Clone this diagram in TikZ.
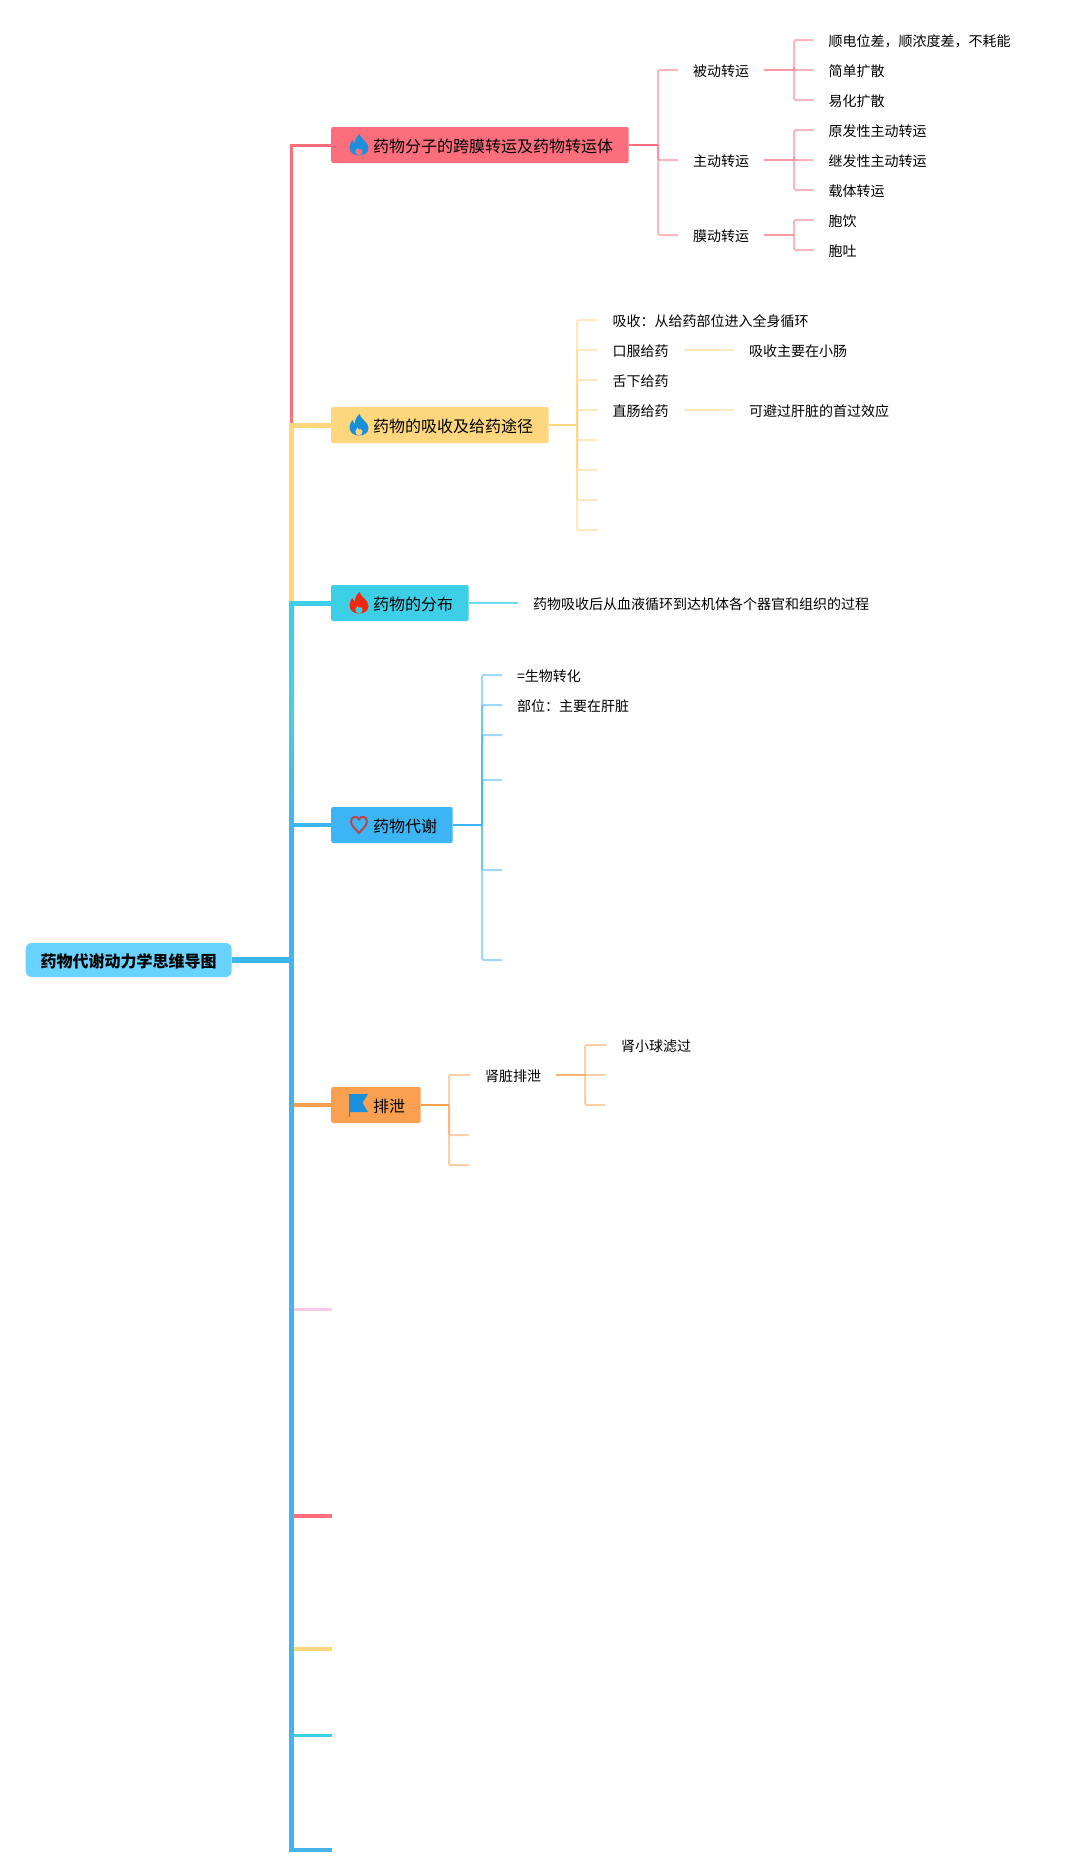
\documentclass[tikz,border=0pt]{standalone}
\usepackage{fontspec}
\setmainfont{Noto Sans CJK SC}
\definecolor{cred}{HTML}{FD6E7C}
\definecolor{cyel}{HTML}{FED67E}
\definecolor{ccya}{HTML}{3DCFE6}
\definecolor{cteal}{HTML}{4CCFD8}
\definecolor{cblu}{HTML}{3DB5F5}
\definecolor{ctrunk}{HTML}{45B4EA}
\definecolor{cora}{HTML}{F9A050}
\definecolor{cpin}{HTML}{FFC8E8}
\definecolor{croot}{HTML}{68D3FF}
\definecolor{ticon}{HTML}{1A8FDC}
\definecolor{fireic}{HTML}{F5280F}
\definecolor{hearti}{HTML}{B5484F}
\tikzset{
  txt/.style={anchor=west,inner xsep=15pt,inner ysep=0pt,text height=14pt,text depth=1.4pt,font=\fontsize{14}{16}\selectfont,text=black},
  boxn/.style={anchor=west,inner xsep=15.5pt,inner ysep=0pt,minimum height=36pt,rounded corners=2pt,text height=15pt,text depth=1pt,font=\fontsize{16}{18}\selectfont,text=black},
  rootn/.style={anchor=west,inner xsep=15pt,inner ysep=0pt,minimum height=34pt,rounded corners=6pt,fill=croot,text height=15pt,text depth=1pt,font=\fontsize{16}{18}\selectfont\bfseries,text=black},
  stub/.style={line width=2pt,opacity=.5,rounded corners=1.5pt},
  conn/.style={line width=2pt},
}
\newcommand{\flameicon}[4]{% x y color inner
  \begin{scope}[shift={(#1,#2)}]
    \fill[#3] (0.5,-11) .. controls (1.5,-6) and (9.5,-3) .. (9.5,3) .. controls (9.5,8) and (5,10.5) .. (0,10.5)
      .. controls (-5.5,10.5) and (-9.5,7.5) .. (-9.5,2) .. controls (-9.5,-1) and (-7.5,-3.5) .. (-6.5,-5)
      .. controls (-6,-3.5) and (-5,-2) .. (-4,-1.5) .. controls (-4.5,-5) and (-2,-9) .. (0.5,-11) -- cycle;
    \fill[#4] (0,10.5) .. controls (-2.6,10) and (-3.8,8) .. (-3.6,6.2) .. controls (-3.4,4.6) and (-2,3.8) .. (-1.4,2.6)
      .. controls (-0.9,3.4) and (-0.6,4) .. (-0.4,4.4) .. controls (1,3.8) and (3.6,4) .. (3.6,6.4)
      .. controls (3.6,8.6) and (2.2,10) .. (0,10.5) -- cycle;
  \end{scope}}
\begin{document}
\begin{tikzpicture}[x=1pt,y=-1pt]
\useasboundingbox[fill=white] (0,0) rectangle (1071,1875);
% trunk junctions
\coordinate (jroot) at (291.5,960);
\coordinate (j2) at (291.5,425);
\coordinate (j3) at (291.5,603);
\coordinate (j4) at (291.5,825);
\coordinate (e6) at (332,1309.5);
\coordinate (e7) at (332,1515.5);
\coordinate (e8) at (332,1648.5);
\coordinate (e9) at (332,1735.5);
\coordinate (e10) at (332,1850);
% main boxes
\node[boxn,fill=cred] (b1) at (331,145) {\hspace{26.5pt}药物分子的跨膜转运及药物转运体};
\node[boxn,fill=cyel] (b2) at (331,425) {\hspace{26.5pt}药物的吸收及给药途径};
\node[boxn,fill=ccya] (b3) at (331,603) {\hspace{26.5pt}药物的分布};
\node[boxn,fill=cblu] (b4) at (331,825) {\hspace{26.5pt}药物代谢};
\node[boxn,fill=cora] (b5) at (331,1105) {\hspace{26.5pt}排泄};
\node[rootn] (root) at (25.5,960) {药物代谢动力学思维导图};
% icons
\flameicon{359}{145}{ticon}{cred}
\flameicon{359}{425}{ticon}{cyel}
\flameicon{359}{603}{fireic}{ccya}
\draw[hearti,line width=2pt,line join=round] (359,833) .. controls (355,828.5) and (351,825.5) .. (351,821.5)
  .. controls (351,816) and (357.5,815) .. (359,819.5) .. controls (360.5,815) and (367,816) .. (367,821.5)
  .. controls (367,825.5) and (363,828.5) .. (359,833) -- cycle;
\fill[ticon] (349,1094) -- (368,1094) -- (362.5,1103) -- (368,1112) -- (350,1112) -- (350,1116.5) -- (349,1116.5) -- cycle;
% trunk
\draw[cred,line width=3pt] (b1.west) -| (j2);
\draw[cyel,line width=5pt] (b2.west) -| (j3);
\fill[top color=ccya,bottom color=ctrunk,middle color=cteal] (289,603) rectangle (293.5,825);
\draw[ccya,line width=5pt] (b3.west) -- (289,603);
\draw[cblu,line width=4pt] (b4.west) -- (j4);
\draw[cora,line width=4pt] (b5.west) -- (292,1105);
\draw[cpin,line width=3pt] (e6) -- (292,1309.5);
\draw[cred,line width=4pt] (e7) -- (292,1515.5);
\draw[cyel,line width=4pt] (e8) -- (292,1648.5);
\draw[ccya,line width=3pt] (e9) -- (292,1735.5);
\draw[cblu,line width=5.5pt] (root.east) -- (jroot);
\draw[ctrunk,line width=4.5pt] (e10) -| (j4);
% branch 1
\coordinate (k1) at (658,145);
\node[txt] (c11) at (678,70) {被动转运};
\node[txt] (c12) at (678,160) {主动转运};
\node[txt] (c13) at (678,235) {膜动转运};
\draw[cred,conn] (b1.east) -- (k1);
\foreach \n in {c11,c12,c13}{\draw[cred,stub] (\n.west) -| (k1);}
\coordinate (k11) at (794,70);
\coordinate (k12) at (794,160);
\coordinate (k13) at (794,235);
\node[txt] (l111) at (813.5,40) {顺电位差，顺浓度差，不耗能};
\node[txt] (l112) at (813.5,70) {简单扩散};
\node[txt] (l113) at (813.5,100) {易化扩散};
\node[txt] (l121) at (813.5,130) {原发性主动转运};
\node[txt] (l122) at (813.5,160) {继发性主动转运};
\node[txt] (l123) at (813.5,190) {载体转运};
\node[txt] (l131) at (813.5,220) {胞饮};
\node[txt] (l132) at (813.5,250) {胞吐};
\draw[cred,conn,opacity=.7] (c11.east) -- (k11);
\draw[cred,conn,opacity=.7] (c12.east) -- (k12);
\draw[cred,conn,opacity=.7] (c13.east) -- (k13);
\foreach \n in {l111,l112,l113}{\draw[cred,stub] (\n.west) -| (k11);}
\foreach \n in {l121,l122,l123}{\draw[cred,stub] (\n.west) -| (k12);}
\foreach \n in {l131,l132}{\draw[cred,stub] (\n.west) -| (k13);}
% branch 2
\coordinate (k2) at (577,425);
\node[txt] (c21) at (597.5,320) {吸收：从给药部位进入全身循环};
\node[txt] (c22) at (597.5,350) {口服给药};
\node[txt] (c23) at (597.5,380) {舌下给药};
\node[txt] (c24) at (597.5,410) {直肠给药};
\coordinate (c25) at (597.5,440);
\coordinate (c26) at (597.5,470);
\coordinate (c27) at (597.5,500);
\coordinate (c28) at (597.5,530);
\draw[cyel,conn] (b2.east) -- (k2);
\foreach \n in {c21.west,c22.west,c23.west,c24.west,c25,c26,c27,c28}{\draw[cyel,stub] (\n) -| (k2);}
\node[txt] (l221) at (734,350) {吸收主要在小肠};
\node[txt] (l241) at (734,410) {可避过肝脏的首过效应};
\draw[cyel,stub] (c22.east) -- (l221.west);
\draw[cyel,stub] (c24.east) -- (l241.west);
% branch 3
\node[txt] (l31) at (518,603) {药物吸收后从血液循环到达机体各个器官和组织的过程};
\draw[ccya,line width=1.5pt,opacity=.75] (b3.east) -- (l31.west);
% branch 4
\coordinate (k4) at (482,825);
\node[txt] (c41) at (502,675) {=生物转化};
\node[txt] (c42) at (502,705) {部位：主要在肝脏};
\coordinate (c43) at (502,735);
\coordinate (c44) at (502,780);
\coordinate (c45) at (502,870);
\coordinate (c46) at (502,960);
\draw[cblu,conn] (b4.east) -- (k4);
\foreach \n in {c41.west,c42.west,c43,c44,c45,c46}{\draw[cblu,stub] (\n) -| (k4);}
% branch 5
\coordinate (k5) at (449,1105);
\node[txt] (c51) at (470,1075) {肾脏排泄};
\coordinate (c52) at (469,1135);
\coordinate (c53) at (469,1165);
\draw[cora,conn] (b5.east) -- (k5);
\draw[cora,stub] (c51.west) -| (k5);
\draw[cora,stub] (c52) -| (k5);
\draw[cora,stub] (c53) -| (k5);
\coordinate (k51) at (585,1075);
\node[txt] (l511) at (606,1045) {肾小球滤过};
\coordinate (l512) at (605,1075);
\coordinate (l513) at (605,1105);
\draw[cora,conn,opacity=.8] (c51.east) -- (k51);
\draw[cora,stub] (l511.west) -| (k51);
\draw[cora,stub] (l512) -- (k51);
\draw[cora,stub] (l513) -| (k51);
\end{tikzpicture}
\end{document}
